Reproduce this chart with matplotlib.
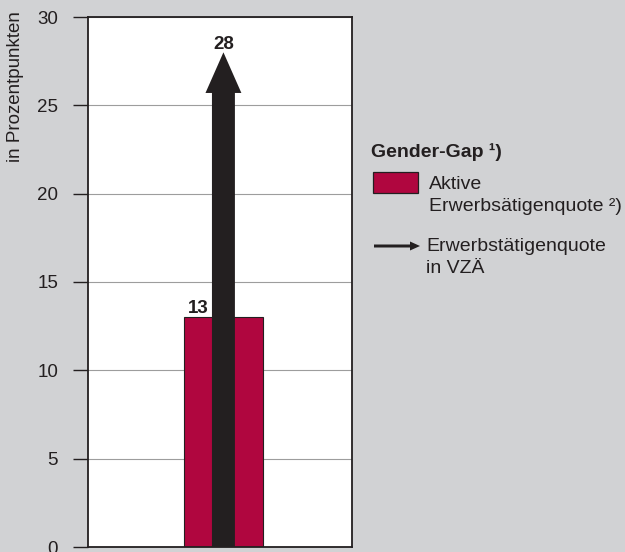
import matplotlib
matplotlib.use("Agg")
import matplotlib.pyplot as plt
from matplotlib.patches import FancyArrow, Rectangle

plt.rcParams['font.family'] = ['Liberation Sans', 'DejaVu Sans']

# Data
categories = ["Gender-Gap"]
bar_values = [13]      # Aktive Erwerbstätigenquote
arrow_values = [28]    # Erwerbstätigenquote in VZÄ
yticks = [0, 5, 10, 15, 20, 25, 30]
ylabel = "in Prozentpunkten"
legend_title = "Gender-Gap \u00b9)"
legend_bar = ["Aktive", "Erwerbsätigenquote \u00b2)"]
legend_arrow = ["Erwerbstätigenquote", "in VZÄ"]

BG = "#d1d2d4"
RED = "#b0063f"
DARK = "#231f20"
FS = 13.5
LFS = 14

W, H = 625, 552
fig = plt.figure(figsize=(W/100, H/100), dpi=100, facecolor=BG)
ax = fig.add_axes([88/W, 5/H, 264/W, 530/H])
ax.set_facecolor("white")

def fx(px):
    return px / W

def fy(py):
    return 1 - py / H

x = [0]
ax.bar(x, bar_values, width=0.30, color=RED, edgecolor=DARK, linewidth=0.8, zorder=2)

for xi, v in zip(x, arrow_values):
    arr = FancyArrow(xi, 0, 0, v, width=0.087, head_width=0.136, head_length=2.3,
                     length_includes_head=True, color=DARK, linewidth=0, zorder=3)
    ax.add_patch(arr)
    ax.text(xi, v + 0.2, f"{v}", ha="center", va="baseline", fontsize=FS, fontweight="bold", color=DARK)

for xi, v in zip(x, bar_values):
    ax.text(xi - 0.096, v + 0.25, f"{v}", ha="center", va="baseline", fontsize=FS, fontweight="bold", color=DARK)

ax.set_xlim(-0.513, 0.487)
ax.set_ylim(0, 30)
ax.set_yticks(yticks)
ax.set_xticks([])
ax.grid(axis="y", color="#9d9d9d", linewidth=0.8, zorder=0)
ax.set_axisbelow(True)
for s in ax.spines.values():
    s.set_color(DARK)
    s.set_linewidth(1.3)
ax.tick_params(axis="y", length=11, width=1.0, color=DARK, labelsize=FS, pad=10.5, labelcolor=DARK)

fig.text(fx(16), fy(11), ylabel, rotation=90, ha="center", va="top", fontsize=FS, color=DARK)

# Legend (manual)
fig.text(fx(371), fy(157), legend_title, ha="left", va="baseline", fontsize=LFS, fontweight="bold", color=DARK)
fig.patches.append(Rectangle((fx(373), fy(193)), 45/W, 21/H, transform=fig.transFigure,
                             facecolor=RED, edgecolor=DARK, linewidth=0.9))
fig.text(fx(429), fy(189), legend_bar[0], ha="left", va="baseline", fontsize=LFS, color=DARK)
fig.text(fx(429), fy(211), legend_bar[1], ha="left", va="baseline", fontsize=LFS, color=DARK)
fig.patches.append(FancyArrow(fx(374), fy(246), 46/W, 0, width=3/H, head_width=9/H,
                              head_length=10/W, length_includes_head=True, transform=fig.transFigure,
                              color=DARK, linewidth=0))
fig.text(fx(426), fy(251), legend_arrow[0], ha="left", va="baseline", fontsize=LFS, color=DARK)
fig.text(fx(426), fy(273), legend_arrow[1], ha="left", va="baseline", fontsize=LFS, color=DARK)

fig.savefig("out.png", dpi=100, facecolor=BG)
